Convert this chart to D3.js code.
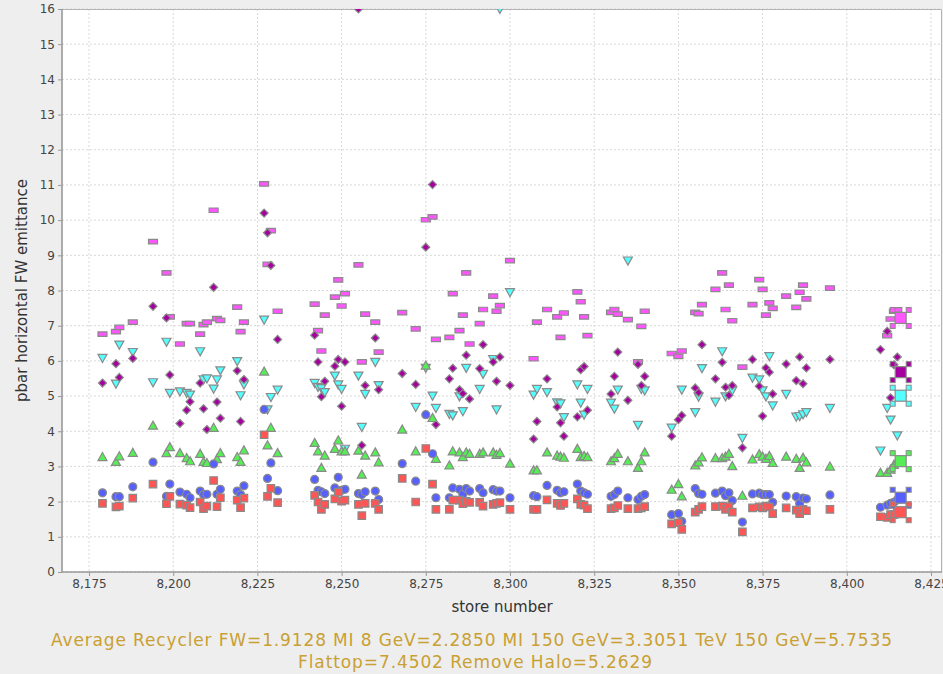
<!DOCTYPE html>
<html>
<head>
<meta charset="utf-8">
<script src="https://cdn.jsdelivr.net/npm/d3@7"></script>
<style>
body { margin: 0; background: #eeeeee; }
svg { display: block; }
</style>
</head>
<body>
<svg id="chart" width="943" height="674"></svg>
<script>
// one entry per store, series
var stores = [8179, 8183, 8184, 8188, 8194, 8198, 8199, 8202, 8204, 8205, 8208, 8209, 8210, 8212, 8213, 8214,
	8219, 8220, 8221, 8227, 8228, 8229, 8231, 8242, 8243, 8244, 8245, 8248, 8249, 8250, 8251, 8255,
	8256, 8257, 8260, 8261, 8268, 8272, 8275, 8277, 8278, 8282, 8283, 8285, 8286, 8287, 8288, 8291,
	8292, 8295, 8296, 8297, 8300, 8307, 8308, 8311, 8314, 8315, 8316, 8320, 8321, 8322, 8323, 8330,
	8331, 8332, 8335, 8338, 8339, 8340, 8348, 8350, 8351, 8355, 8356, 8357, 8361, 8363, 8364, 8365,
	8366, 8369, 8372, 8374, 8375, 8376, 8377, 8378, 8382, 8385, 8386, 8387, 8388, 8395, 8410, 8412,
	8413, 8414, 8415];

var flattop = [6.76, 6.83, 6.95, 7.10, 9.39, 8.50, 7.25, 6.48, 7.06, 7.06, 6.76, 7.03, 7.10, 10.28, 7.20, 7.15,
	7.53, 6.83, 7.10, 11.03, 8.74, 9.70, 7.41, 7.61, 6.86, 6.28, 7.30, 7.81, 8.30, 7.56, 7.91, 8.73,
	5.97, 7.33, 7.10, 6.25, 7.37, 6.91, 10.01, 10.09, 6.61, 6.67, 7.91, 6.86, 7.30, 8.50, 6.48, 7.06,
	7.46, 7.84, 7.41, 7.57, 8.85, 6.06, 7.10, 7.46, 7.25, 6.67, 7.36, 7.96, 7.68, 7.25, 6.72, 7.38,
	7.46, 7.33, 7.17, 5.97, 6.98, 7.41, 6.21, 6.13, 6.28, 7.38, 7.34, 7.60, 8.03, 8.50, 7.46, 8.15,
	7.14, 5.82, 7.60, 8.31, 8.03, 7.30, 7.65, 7.49, 7.84, 7.52, 7.95, 8.15, 7.76, 8.07, null, 6.72,
	7.19, 7.41, 7.45];

var removeHalo = [6.08, 5.35, 6.46, 6.25, 5.39, 6.54, 5.09, 5.13, 5.09, 5.04, 6.27, 5.47, 5.50, 5.21, 5.47, 5.73,
	5.99, 5.02, 5.33, 7.17, 4.62, 4.97, 5.18, 5.37, 5.26, 5.22, 5.11, 5.58, 5.33, 5.20, 3.50, 5.58,
	4.12, 5.06, 5.97, 5.31, null, 4.69, 5.80, 5.01, 4.66, 4.49, 4.45, 4.99, 4.57, 5.80, null, 5.20,
	5.63, 6.05, 4.62, 16.0, 7.95, 5.04, 5.20, 5.11, 4.82, 4.79, 4.40, 5.33, 4.81, 4.47, 5.20, 4.81,
	4.64, 5.18, 8.85, 4.18, 5.20, 5.16, 4.10, null, 5.18, 4.54, 4.98, 5.79, 4.84, 6.27, 4.99, null,
	5.16, 3.81, 5.52, 5.47, 5.16, 4.99, 6.13, 4.73, 5.06, 4.41, 4.43, 4.48, 4.54, 4.66, 3.45, 4.66,
	4.33, null, 3.88];

var tev150 = [5.37, 5.92, 5.53, 6.07, 7.55, 7.22, 5.60, 4.22, 4.60, 4.84, 5.37, 4.64, 4.05, 8.09, 4.83, 4.37,
	5.72, 4.28, 5.47, 10.20, 9.64, 8.71, 6.61, 6.73, 5.97, 4.98, 5.42, 5.85, 6.04, 4.71, 5.97, 16.0,
	3.60, 5.30, 6.65, 5.18, 5.64, 5.33, 9.23, 11.01, 4.19, 5.49, 5.79, 5.18, 5.07, 6.16, 4.92, 5.78,
	6.46, 5.97, 5.42, 6.11, 5.30, 3.78, 4.28, 5.49, 4.69, 4.24, 3.86, 4.41, 5.75, 5.84, 4.60, 5.06,
	5.56, 6.25, 4.88, 5.90, 5.30, 5.56, 3.86, 4.33, 4.45, 5.23, 5.10, 6.46, 5.49, 5.96, 5.25, 5.02,
	5.30, 3.53, 6.04, 5.28, 4.43, 5.80, 5.68, 5.06, 5.91, 5.44, 6.11, 5.35, 5.80, 6.04, 6.32, 6.84,
	4.95, 5.89, 6.11];

var mi150 = [3.27, 3.13, 3.29, 3.39, 4.16, 3.38, 3.55, 3.38, 3.24, 3.15, 3.36, 3.13, 3.10, 4.10, 3.21, 3.38,
	3.27, 3.13, 3.46, 5.70, 3.60, 4.10, 3.38, 3.67, 3.43, 2.96, 3.31, 3.50, 3.74, 3.43, 3.43, 3.45,
	2.77, 3.31, 3.40, 3.12, 4.05, 3.43, 5.87, 4.38, 3.22, 3.03, 3.43, 3.40, 3.27, 3.40, 3.36, 3.36,
	3.40, 3.40, 3.33, 3.38, 3.08, 2.89, 2.89, 3.40, 3.31, 3.28, 3.25, 3.50, 3.27, 3.30, 3.27, 3.15,
	3.24, 3.36, 3.15, 2.96, 3.15, 3.40, 2.34, 2.50, 2.15, 3.03, 3.12, 3.26, 3.24, 3.24, 3.28, 3.36,
	3.01, 2.17, 3.20, 3.35, 3.28, 3.22, 3.30, 3.10, 3.28, 3.22, 2.96, 3.25, 3.12, 3.00, 2.82, 2.82,
	2.91, 3.05, 3.15];

var mi8 = [2.25, 2.14, 2.14, 2.42, 3.12, 2.15, 2.50, 2.27, 2.21, 2.11, 2.30, 2.20, 2.21, 3.07, 2.21, 2.35,
	2.30, 2.20, 2.45, 4.62, 2.66, 3.10, 2.31, 2.63, 2.32, 2.28, 2.23, 2.39, 2.69, 2.32, 2.35, 2.23,
	2.20, 2.28, 2.30, 2.06, 3.08, 2.58, 4.47, 3.36, 2.11, 2.11, 2.39, 2.35, 2.21, 2.37, 2.30, 2.37,
	2.25, 2.34, 2.30, 2.30, 2.11, 2.17, 2.14, 2.46, 2.32, 2.25, 2.28, 2.50, 2.30, 2.25, 2.21, 2.15,
	2.20, 2.30, 2.11, 2.06, 2.15, 2.20, 1.63, 1.66, 1.44, 2.37, 2.23, 2.21, 2.24, 2.30, 2.17, 2.25,
	2.03, 1.42, 2.22, 2.24, 2.20, 2.20, 2.20, 1.98, 2.16, 2.14, 1.95, 2.10, 2.08, 2.19, 1.84, 1.90,
	1.95, 1.98, 2.05];

var recycler = [1.95, 1.85, 1.87, 2.10, 2.50, 1.94, 2.15, 1.93, 1.90, 1.83, 1.99, 1.80, 1.87, 2.60, 1.86, 2.11,
	2.04, 1.83, 2.10, 3.90, 2.15, 2.38, 1.97, 2.18, 1.99, 1.78, 1.92, 2.08, 2.27, 2.01, 2.04, 1.92,
	1.60, 1.95, 1.95, 1.78, 2.66, 1.99, 3.51, 2.50, 1.78, 1.78, 2.04, 2.04, 1.94, 2.01, 1.98, 1.98,
	1.87, 1.92, 1.95, 1.97, 1.78, 1.78, 1.78, 2.05, 1.95, 1.89, 1.95, 2.08, 1.92, 1.90, 1.80, 1.80,
	1.82, 1.89, 1.80, 1.80, 1.82, 1.86, 1.37, 1.40, 1.21, 1.70, 1.78, 1.86, 1.86, 1.87, 1.78, 1.86,
	1.70, 1.14, 1.82, 1.85, 1.82, 1.87, 1.85, 1.66, 1.82, 1.76, 1.66, 1.78, 1.74, 1.78, 1.57, 1.55,
	1.63, 1.63, 1.70];

// selected (latest) store, shown with big markers and handles
var selectedStore = 8416;
var selectedValues = {flattop: 7.22, tev150: 5.68, removeHalo: 5.01, mi150: 3.15, mi8: 2.11, recycler: 1.70};

var xTicks = [8175, 8200, 8225, 8250, 8275, 8300, 8325, 8350, 8375, 8400, 8425];
var yTicks = [0, 1, 2, 3, 4, 5, 6, 7, 8, 9, 10, 11, 12, 13, 14, 15, 16];

var footer1 = "Average Recycler FW=1.9128 MI 8 GeV=2.2850 MI 150 GeV=3.3051 TeV 150 GeV=5.7535";
var footer2 = "Flattop=7.4502 Remove Halo=5.2629";

var plotLeft = 62, plotTop = 9, plotRight = 942, plotBottom = 572;
var outline = "#8a8a8a";

var svgContainer = d3.select("#chart");

var xScale = d3.scaleLinear().domain([8166.98, 8428.27]).range([plotLeft, plotRight]);
var yScale = d3.scaleLinear().domain([0, 16]).range([plotBottom, plotTop]);

svgContainer.append("rect")
	.attr("x", plotLeft).attr("y", plotTop)
	.attr("width", plotRight - plotLeft).attr("height", plotBottom - plotTop)
	.attr("fill", "white");

// grid
var grid = svgContainer.append("g");
grid.selectAll("line.gx").data(xTicks).enter().append("line")
	.attr("x1", function(d) {return xScale(d);}).attr("x2", function(d) {return xScale(d);})
	.attr("y1", plotTop).attr("y2", plotBottom)
	.attr("stroke", "#d8d8d8").attr("stroke-dasharray", "2,2");
grid.selectAll("line.gy").data(yTicks).enter().append("line")
	.attr("y1", function(d) {return yScale(d);}).attr("y2", function(d) {return yScale(d);})
	.attr("x1", plotLeft).attr("x2", plotRight)
	.attr("stroke", "#d8d8d8").attr("stroke-dasharray", "2,2");

// top and right border of the plot
svgContainer.append("path")
	.attr("d", "M" + plotLeft + "," + (plotTop + 0.5) + "H" + (plotRight - 0.5) + "V" + plotBottom)
	.attr("fill", "none").attr("stroke", "#b4b4b4").attr("stroke-width", 1);

svgContainer.append("clipPath").attr("id", "plotclip")
	.append("rect")
	.attr("x", plotLeft).attr("y", plotTop)
	.attr("width", plotRight - plotLeft).attr("height", plotBottom - plotTop);

// marker shapes, relative to the point
function shapePath(kind, s) {
	var h = s / 2;
	if (kind == "square") return "M" + (-h) + "," + (-h) + "h" + s + "v" + s + "h" + (-s) + "Z";
	if (kind == "circle") return "M" + (-h) + ",0a" + h + "," + h + " 0 1,0 " + s + ",0a" + h + "," + h + " 0 1,0 " + (-s) + ",0Z";
	if (kind == "up") return "M0," + (-h) + "L" + h + "," + (h * 0.8) + "L" + (-h) + "," + (h * 0.8) + "Z";
	if (kind == "down") return "M0," + h + "L" + h + "," + (-h * 0.8) + "L" + (-h) + "," + (-h * 0.8) + "Z";
	if (kind == "diamond") return "M0," + (-h) + "L" + h + ",0L0," + h + "L" + (-h) + ",0Z";
	if (kind == "bar") return "M" + (-h) + "," + (-s * 0.25) + "h" + s + "v" + (s * 0.5) + "h" + (-s) + "Z";
	return "";
}

var series = [
	{key: "flattop", values: flattop, kind: "bar", size: 9, fill: "#ff55ff"},
	{key: "removeHalo", values: removeHalo, kind: "down", size: 9, fill: "#55ffff"},
	{key: "tev150", values: tev150, kind: "diamond", size: 8, fill: "#a5009f"},
	{key: "mi150", values: mi150, kind: "up", size: 9, fill: "#55ee55"},
	{key: "mi8", values: mi8, kind: "circle", size: 8, fill: "#5560ff"},
	{key: "recycler", values: recycler, kind: "square", size: 7.5, fill: "#ff5555"}
];

var pointGroup = svgContainer.append("g").attr("clip-path", "url(#plotclip)");

series.forEach(function(ser) {
	var pts = stores.map(function(s, i) {return {store: s, value: ser.values[i]};})
		.filter(function(p) {return p.value != null;});
	pointGroup.append("g")
		.selectAll("path")
		.data(pts)
		.enter()
		.append("path")
		.attr("transform", function(p) {return "translate(" + xScale(p.store) + "," + yScale(p.value) + ")";})
		.attr("d", shapePath(ser.kind, ser.size))
		.attr("fill", ser.fill)
		.attr("stroke", outline)
		.attr("stroke-width", 1.2);
});

// selected store: big square + 4 handles
series.forEach(function(ser) {
	var g = pointGroup.append("g")
		.attr("transform", "translate(" + xScale(selectedStore) + "," + yScale(selectedValues[ser.key]) + ")");
	[[-8, -8], [8, -8], [-8, 8], [8, 8]].forEach(function(c) {
		g.append("rect")
			.attr("x", c[0] - 2.5).attr("y", c[1] - 2.5)
			.attr("width", 5).attr("height", 5)
			.attr("fill", ser.fill).attr("stroke", outline).attr("stroke-width", 1);
	});
	g.append("rect")
		.attr("x", -5.5).attr("y", -5.5).attr("width", 11).attr("height", 11)
		.attr("fill", ser.fill).attr("stroke", outline).attr("stroke-width", 1.2);
});

// axes
var xAxis = d3.axisBottom(xScale).tickValues(xTicks).tickSize(4).tickPadding(3).tickFormat(d3.format(","));
var yAxis = d3.axisLeft(yScale).tickValues(yTicks).tickSize(4).tickPadding(3).tickFormat(d3.format("d"));

var gx = svgContainer.append("g").attr("transform", "translate(0," + plotBottom + ")").call(xAxis);
var gy = svgContainer.append("g").attr("transform", "translate(" + plotLeft + ",0)").call(yAxis);

[gx, gy].forEach(function(g) {
	g.select(".domain").attr("stroke", "#999").attr("stroke-width", 1.6);
	g.selectAll(".tick line").attr("stroke", "#999");
	g.selectAll(".tick text")
		.attr("fill", "#444")
		.style("font-family", "'DejaVu Sans', sans-serif")
		.style("font-size", "12px");
});
gx.select(".domain").attr("d", "M" + plotLeft + ",0H" + plotRight);
gy.select(".domain").attr("d", "M0," + plotTop + "V" + plotBottom);

// axis titles
svgContainer.append("text")
	.attr("x", (plotLeft + plotRight) / 2).attr("y", 612)
	.attr("text-anchor", "middle")
	.style("font-family", "'DejaVu Sans', sans-serif").style("font-size", "15px")
	.attr("fill", "#333")
	.text("store number");

svgContainer.append("text")
	.attr("transform", "translate(27," + ((plotTop + plotBottom) / 2) + ") rotate(-90)")
	.attr("text-anchor", "middle")
	.style("font-family", "'DejaVu Sans', sans-serif").style("font-size", "15px")
	.attr("fill", "#333")
	.text("pbar horizontal FW emittance");

// averages footer
svgContainer.append("text")
	.attr("x", 471.5).attr("y", 646)
	.attr("text-anchor", "middle")
	.attr("textLength", 841).attr("lengthAdjust", "spacing")
	.style("font-family", "'DejaVu Sans', sans-serif").style("font-size", "17px")
	.attr("fill", "#c9a032")
	.text(footer1);

svgContainer.append("text")
	.attr("x", 475).attr("y", 668)
	.attr("text-anchor", "middle")
	.attr("textLength", 354).attr("lengthAdjust", "spacing")
	.style("font-family", "'DejaVu Sans', sans-serif").style("font-size", "17px")
	.attr("fill", "#c9a032")
	.text(footer2);
</script>
</body>
</html>
